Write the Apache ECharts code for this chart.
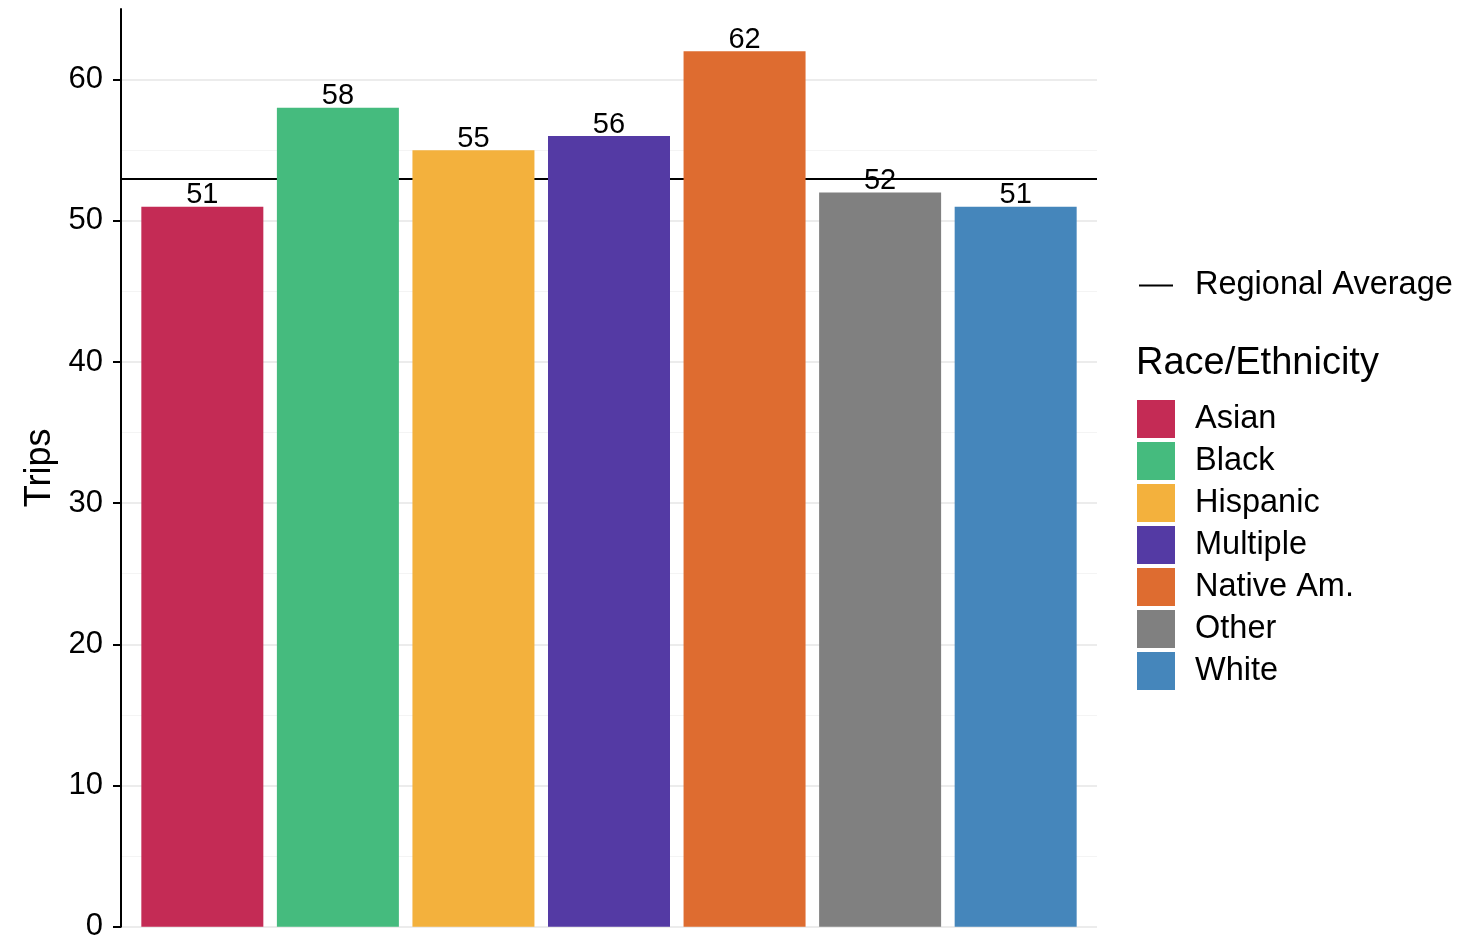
<!DOCTYPE html>
<html>
<head>
<meta charset="utf-8">
<script src="https://cdn.jsdelivr.net/npm/echarts@6/dist/echarts.min.js"></script>
<style>html,body{margin:0;padding:0;background:#fff;}#c{width:1458px;height:936px;}</style>
</head>
<body>
<div id="c"></div>
<script>
const categories = ['Asian', 'Black', 'Hispanic', 'Multiple', 'Native Am.', 'Other', 'White'];
const trips = [51, 58, 55, 56, 62, 52, 51];
const colors = ['#C42B55', '#45BB7E', '#F3B13D', '#543AA4', '#DE6C30', '#808080', '#4586BB'];
const regionalAverage = 53;
const yTicks = [0, 10, 20, 30, 40, 50, 60];

const FONT = '"Liberation Sans", Arial, Helvetica, sans-serif';
const chart = echarts.init(document.getElementById('c'), null, {renderer: 'canvas'});

const barData = categories.map((c, i) => ({
  value: [i + 1, trips[i]],
  name: c,
  itemStyle: {color: colors[i]}
}));

const dummySeries = categories.map((c, i) => ({
  type: 'bar', name: c, stack: 'all', data: [], color: colors[i], barWidth: '90%'
}));

const option = {
  animation: false,
  backgroundColor: '#ffffff',
  textStyle: {fontFamily: FONT},
  grid: {left: 121, right: 361, top: 9, bottom: 9.3, containLabel: false, outerBoundsMode: 'none'},
  title: {
    text: 'Race/Ethnicity', left: 1136, top: 345, padding: 0,
    textStyle: {fontFamily: FONT, fontSize: 38, fontWeight: 'normal', color: '#000'}
  },
  legend: [
    {
      data: ['Regional Average'], orient: 'vertical', left: 1139, top: 269, padding: 0,
      icon: 'rect', itemWidth: 34, itemHeight: 2,
      textStyle: {fontFamily: FONT, fontSize: 32.5, color: '#000', padding: [0, 0, 0, 17]},
      selectedMode: false
    },
    {
      data: categories, orient: 'vertical', left: 1137, top: 400, padding: 0,
      icon: 'rect', itemWidth: 38, itemHeight: 38, itemGap: 4,
      textStyle: {fontFamily: FONT, fontSize: 32.5, color: '#000', padding: [6, 0, 0, 15]},
      selectedMode: false
    }
  ],
  xAxis: {
    type: 'value', min: 0.4, max: 7.6, show: false
  },
  yAxis: {
    type: 'value', min: 0, max: 65, interval: 10,
    name: 'Trips', nameLocation: 'middle', nameGap: 62, nameRotate: 90,
    nameTextStyle: {fontFamily: FONT, fontSize: 36, color: '#000'},
    axisLine: {show: true, lineStyle: {color: '#000', width: 2}},
    axisTick: {show: true, length: 8, lineStyle: {color: '#000', width: 2}, customValues: yTicks},
    axisLabel: {fontFamily: FONT, fontSize: 31, color: '#000', margin: 18, customValues: yTicks},
    splitLine: {show: true, lineStyle: {color: '#e6e6e6', width: 1.6}},
    minorTick: {show: false, splitNumber: 2},
    minorSplitLine: {show: true, lineStyle: {color: '#f4f4f4', width: 1}}
  },
  series: [
    {
      type: 'bar', name: 'Trips', stack: 'all', barWidth: '90%',
      data: barData,
      label: {
        show: true, position: 'top', distance: 0, offset: [0, 3],
        fontFamily: FONT, fontSize: 29, color: '#000',
        formatter: p => p.value[1]
      },
      markLine: {
        silent: true, symbol: ['none', 'none'], z: 1,
        label: {show: false},
        lineStyle: {color: '#000', width: 2, type: 'solid'},
        data: [{yAxis: regionalAverage}]
      }
    },
    {
      type: 'line', name: 'Regional Average', data: [], color: '#000',
      lineStyle: {color: '#000', width: 2}, itemStyle: {color: '#000'}
    }
  ].concat(dummySeries)
};
chart.setOption(option);
</script>
</body>
</html>
